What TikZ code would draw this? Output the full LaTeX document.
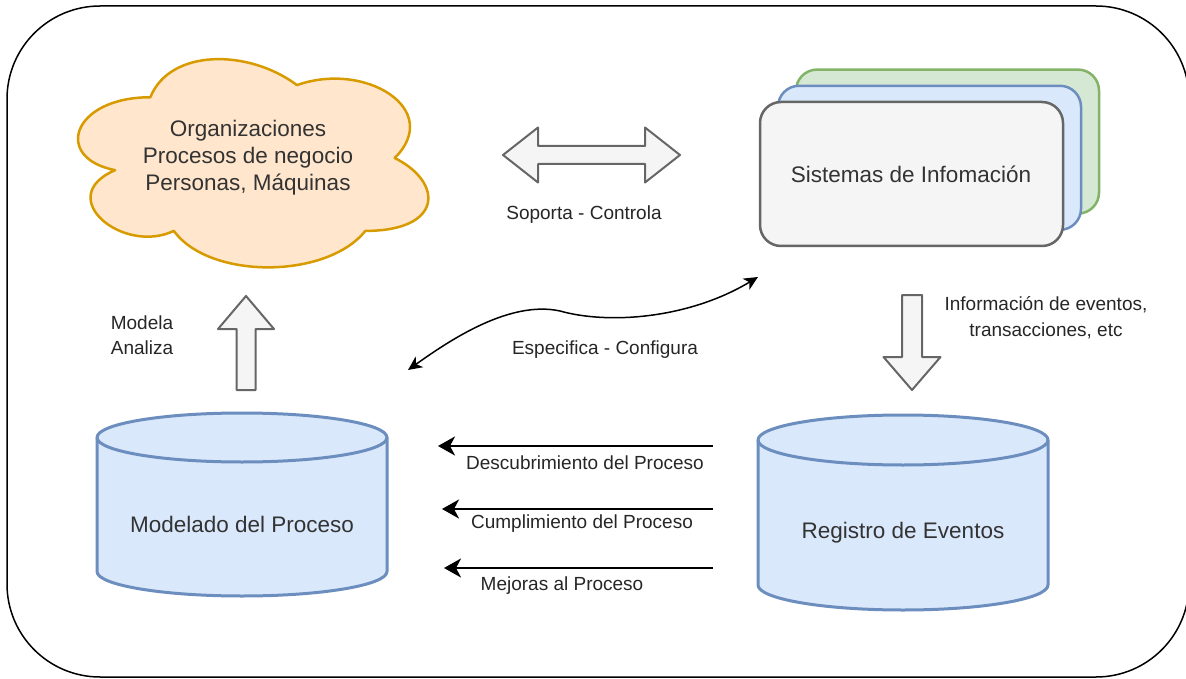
\documentclass[tikz,border=0pt]{standalone}
\usepackage{fontspec}
\setmainfont{Liberation Sans}
\usetikzlibrary{arrows.meta,calc,positioning}
\definecolor{cloudfill}{HTML}{FFE6CC}
\definecolor{clouddraw}{HTML}{D79B00}
\definecolor{bluefill}{HTML}{DAE8FC}
\definecolor{bluedraw}{HTML}{6C8EBF}
\definecolor{greenfill}{HTML}{D5E8D4}
\definecolor{greendraw}{HTML}{82B366}
\definecolor{grayfill}{HTML}{F5F5F5}
\definecolor{graydraw}{HTML}{666666}
\definecolor{txtgray}{HTML}{333333}
\begin{document}
\begin{tikzpicture}[x=1pt,y=-1pt,line join=round,
	bigtxt/.style={align=center,text=txtgray,font=\fontsize{22.5}{27}\selectfont},
	lbl/.style={align=center,text=black!85,font=\fontsize{19}{25.5}\selectfont},
	blockarrow/.style={fill=grayfill,draw=graydraw,line width=2pt},
	flow/.style={line width=2.5pt,-{Stealth[length=17pt,width=19pt,inset=5pt]}}]
		\useasboundingbox (0,0) rectangle (1186,679);
		% marco exterior
		\draw[line width=1.5pt,rounded corners=93pt] (7,6) rectangle (1189,677);
		% nube
		\begin{scope}[shift={(52.6,36.5)},x=391pt,y=-243pt]
		\draw[fill=cloudfill,draw=clouddraw,line width=2.5pt] (0.25,0.25) .. controls (0.05,0.25) and (0,0.5) .. (0.16,0.55) .. controls (0,0.66) and (0.18,0.9) .. (0.31,0.8) .. controls (0.4,1) and (0.7,1) .. (0.8,0.8) .. controls (1,0.8) and (1,0.6) .. (0.875,0.5) .. controls (1,0.3) and (0.8,0.1) .. (0.625,0.2) .. controls (0.5,0.05) and (0.3,0.05) .. (0.25,0.25) -- cycle;
		\end{scope}
		\node[bigtxt] (org) at (248,158) {Organizaciones\\Procesos de negocio\\Personas, Máquinas};
		% sistemas apilados
		\foreach \d/\f/\c in {36/greenfill/greendraw,18/bluefill/bluedraw,0/grayfill/graydraw}{
			\draw[fill=\f,draw=\c,line width=2.5pt,rounded corners=21pt] (760+\d,102-0.9*\d) rectangle (1063+\d,246-0.9*\d);}
		\node[bigtxt] (sis) at (911,174) {Sistemas de Infomación};
		% flechas de bloque
		\draw[blockarrow] (503,155) -- (538,127.5) -- (538,146) -- (645,146) -- (645,127.5) -- (680,155) -- (645,182.5) -- (645,164) -- (538,164) -- (538,182.5) -- cycle;
		\node[lbl] (sop) at (584,215) {Soporta - Controla};
		\draw[blockarrow] (246,296) -- (274,329) -- (255.5,329) -- (255.5,390) -- (236.5,390) -- (236.5,329) -- (218,329) -- cycle;
		\node[lbl] (mod) at (142,335) {Modela\\Analiza};
		\draw[blockarrow] (902,295) -- (922,295) -- (922,357) -- (940.5,357) -- (912,390) -- (883.5,357) -- (902,357) -- cycle;
		\node[lbl] (inf) at (1046,317.5) {Información de eventos,\\transacciones, etc};
		% cilindros
		\foreach \x/\y/\h/\r in {97/413/183/24.5,758/415/195/25}{
			\draw[fill=bluefill,draw=bluedraw,line width=3pt] (\x,\y+\r) arc[start angle=180,end angle=360,x radius=145,y radius=\r] -- (\x+290,\y+\h-\r) arc[start angle=0,end angle=180,x radius=145,y radius=\r] -- cycle;
			\draw[draw=bluedraw,line width=3pt] (\x,\y+\r) arc[start angle=180,end angle=0,x radius=145,y radius=\r];}
		\node[bigtxt] (mp) at (242,524) {Modelado del Proceso};
		\node[bigtxt] (re) at (903,533) {Registro de Eventos};
		% especifica - configura
		\coordinate (e1) at (408,370);
		\coordinate (e2) at (758,277);
		\draw[line width=1.5pt,{Stealth[length=14pt,width=13pt,inset=4pt]}-{Stealth[length=14pt,width=13pt,inset=4pt]}] (e1) .. controls (450,340) and (510,300) .. (560,311) .. controls (610,325) and (690,318) .. (e2);
		\node[lbl] (esp) at (605,350) {Especifica - Configura};
		% flechas del registro al modelo
		\foreach \n/\y/\t/\ly/\lx/\s in {a/446/438/463/585/Descubrimiento del Proceso,b/509/442/524/582/Cumplimiento del Proceso,c/568/444/586/562/Mejoras al Proceso}{
			\coordinate (s\n) at (713,\y);
			\coordinate (t\n) at (\t,\y);
			\draw[flow] (s\n) -- (t\n);
			\node[lbl] (l\n) at (\lx,\ly) {\s};}
\end{tikzpicture}
\end{document}
